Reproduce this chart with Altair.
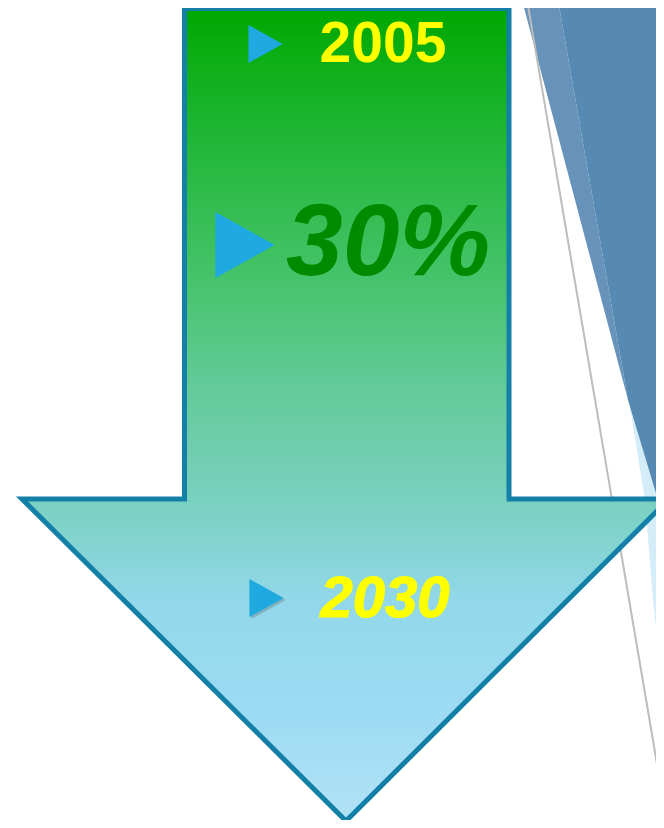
import altair as alt
import pandas as pd

# ---- data (page pixel coordinates) ----
# arrow outline: horizontal slices (y, left x, right x)
arrow_y = [8.5, 499.0, 499.01, 821.0]
arrow_xl = [184.5, 184.5, 22.0, 346.0]
arrow_xr = [509.0, 509.0, 669.0, 346.0]

# background decorative slices
band_y = [0, 400]
band_xl = [522, 628]
band_xr = [558, 628]

dark_y = [0, 400, 520]
dark_xl = [558, 628, 664]
dark_xr = [664, 664, 664]

strip_y = [395, 500, 600, 700]
strip_xl = [628, 645, 653, 664]
strip_xr = [700, 700, 700, 700]

strip2_y = [805, 828]
strip2_xl = [664, 658]
strip2_xr = [680, 680]

line_x = [527, 664]
line_y = [0, 805]

# labels
labels = ["2005", "30%", "2030"]
label_x = [383, 388, 385]
label_y = [62, 275, 617]
label_size = [57, 102, 58]
label_style = ["normal", "italic", "italic"]
label_color = ["#FFFF00", "#008A00", "#FFFF00"]

bullet_x = [265.5, 245, 266.5]
bullet_y = [44, 245, 598]
bullet_size = [1444, 4356, 1444]

# plot area covers page pixels 8..656 x 8..820 (body margin 8px)
W, H = 648, 812
xs = alt.Scale(domain=[8, 656], nice=False, zero=False)
ys = alt.Scale(domain=[8, 820], nice=False, zero=False, reverse=True)


def slices(y, xl, xr):
    return pd.DataFrame({"y": y, "xl": xl, "xr": xr})


def area_layer(df, **mk):
    return alt.Chart(df).mark_area(orient="horizontal", clip=False, **mk).encode(
        y=alt.Y("y:Q", scale=ys, axis=None),
        x=alt.X("xl:Q", scale=xs, axis=None),
        x2="xr:Q",
    )


strip = area_layer(slices(strip_y, strip_xl, strip_xr), color="#D4EDF8")
strip2 = area_layer(slices(strip2_y, strip2_xl, strip2_xr), color="#D4EDF8")
band = area_layer(slices(band_y, band_xl, band_xr), color="#6793BB")
dark = area_layer(slices(dark_y, dark_xl, dark_xr), color="#568AB2")

gline = alt.Chart(pd.DataFrame({"x": line_x, "y": line_y})).mark_line(
    color="#BDBDBD", strokeWidth=2
).encode(
    x=alt.X("x:Q", scale=xs, axis=None),
    y=alt.Y("y:Q", scale=ys, axis=None),
)

grad = alt.Gradient(
    gradient="linear",
    x1=0, x2=0, y1=0, y2=1,
    stops=[
        alt.GradientStop(color="#00A800", offset=0.0),
        alt.GradientStop(color="#10B01C", offset=0.08),
        alt.GradientStop(color="#30BC4C", offset=0.23),
        alt.GradientStop(color="#47C46D", offset=0.34),
        alt.GradientStop(color="#64CA9A", offset=0.47),
        alt.GradientStop(color="#78D0BE", offset=0.60),
        alt.GradientStop(color="#92D8EA", offset=0.73),
        alt.GradientStop(color="#9DDBF2", offset=0.87),
        alt.GradientStop(color="#B2E3F6", offset=1.0),
    ],
)

arrow = alt.Chart(slices(arrow_y, arrow_xl, arrow_xr)).mark_area(
    orient="horizontal", fill=grad, stroke="#1480A8", strokeWidth=5,
    strokeJoin="miter", strokeMiterLimit=20, clip=False
).encode(
    y=alt.Y("y:Q", scale=ys, axis=None),
    x=alt.X("xl:Q", scale=xs, axis=None),
    x2="xr:Q",
)

tri_path = "M-0.9,-1L0.9,0L-0.9,1Z"
bul = pd.DataFrame({"x": bullet_x, "y": bullet_y, "s": bullet_size})
bullets_shadow = alt.Chart(bul.iloc[[2]]).mark_point(
    shape=tri_path, filled=True, color="#555555", opacity=0.3, strokeWidth=0
).encode(
    x=alt.X("x:Q", scale=xs, axis=None),
    y=alt.Y("y:Q", scale=ys, axis=None),
    size=alt.Size("s:Q", scale=None, legend=None),
    xOffset=alt.value(2), yOffset=alt.value(2),
)
bullets = alt.Chart(bul).mark_point(
    shape=tri_path, filled=True, color="#1FA9E1", opacity=1, strokeWidth=0
).encode(
    x=alt.X("x:Q", scale=xs, axis=None),
    y=alt.Y("y:Q", scale=ys, axis=None),
    size=alt.Size("s:Q", scale=None, legend=None),
)

txt = pd.DataFrame({
    "t": labels, "x": label_x, "y": label_y, "fs": label_size,
    "st": label_style, "c": label_color,
})


def text_layer(row):
    r = txt.iloc[[row]]
    return alt.Chart(r).mark_text(
        font="Liberation Sans", fontWeight="bold",
        fontStyle=r["st"].iloc[0], fontSize=float(r["fs"].iloc[0]),
        align="center", baseline="alphabetic",
        color=r["c"].iloc[0],
        stroke=r["c"].iloc[0],
        strokeWidth=1.2 if row == 2 else 0,
    ).encode(
        x=alt.X("x:Q", scale=xs, axis=None),
        y=alt.Y("y:Q", scale=ys, axis=None),
        text="t:N",
    )


chart = alt.layer(
    strip, strip2, band, dark, gline, arrow,
    bullets_shadow, bullets, text_layer(0), text_layer(1), text_layer(2),
).properties(
    width=W, height=H, padding=0, autosize=alt.AutoSizeParams(type="none"),
    background="white",
).configure_view(stroke=None)

chart.save("out.html", embed_options={"renderer": "svg", "actions": False})
